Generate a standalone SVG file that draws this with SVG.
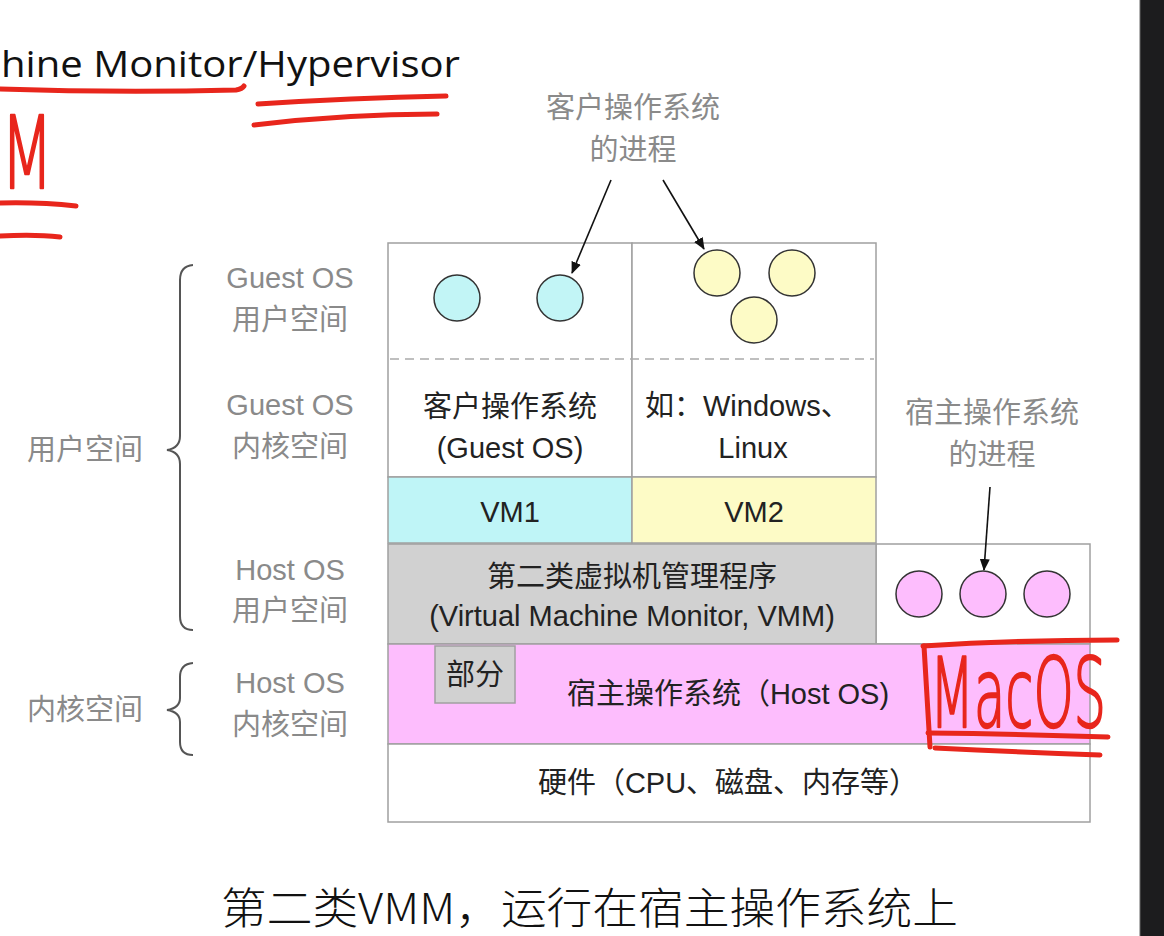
<svg xmlns="http://www.w3.org/2000/svg" width="1164" height="936" viewBox="0 0 1164 936">
<defs>
<marker id="ah" viewBox="0 0 12 10" refX="11" refY="5" markerWidth="12" markerHeight="10" markerUnits="userSpaceOnUse" orient="auto">
<path d="M0,0 L12,5 L0,10 Z" fill="#111"/>
</marker>
</defs>
<style>
.lbl{font-family:"Liberation Sans","Noto Sans CJK SC",sans-serif;font-size:29px;fill:#8a8a8a;text-anchor:middle;}
.box{font-family:"Liberation Sans","Noto Sans CJK SC",sans-serif;font-size:29px;fill:#222;text-anchor:middle;}
.frame{stroke:#a0a0a0;stroke-width:1.5;}
.proc{stroke:#333;stroke-width:1.5;}
.red{fill:none;stroke:#e8261c;stroke-width:5;stroke-linecap:round;stroke-linejoin:round;}
.redtxt{font-family:"DejaVu Sans",sans-serif;font-weight:200;fill:#e8261c;stroke:#e8261c;stroke-width:2.5;stroke-linejoin:round;}
.brace{fill:none;stroke:#555;stroke-width:2;}
.arrow{stroke:#111;stroke-width:1.6;fill:none;}
</style>
<rect width="1164" height="936" fill="#ffffff"/>
<rect x="1140" y="0" width="24" height="936" fill="#1c1c1e"/>
<line x1="1140" y1="0" x2="1140" y2="936" stroke="#666" stroke-width="1"/>

<g id="title">
<text x="1" y="77" font-family="Open Sans, Liberation Sans, sans-serif" font-size="37" fill="#111" textLength="459" lengthAdjust="spacingAndGlyphs">hine Monitor/Hypervisor</text>
</g>

<g id="guest-area">
<rect x="388" y="243" width="244" height="234" fill="#fff" class="frame"/>
<rect x="632" y="243" width="244" height="234" fill="#fff" class="frame"/>
<line x1="390" y1="359" x2="874" y2="359" stroke="#aaa" stroke-width="1.5" stroke-dasharray="9 6"/>
<text class="box" x="510" y="417">客户操作系统</text>
<text class="box" x="510" y="458">(Guest OS)</text>
<text class="box" x="645" y="416" style="text-anchor:start">如：Windows、</text>
<text class="box" x="753" y="458">Linux</text>
</g>

<g id="vm1">
<rect x="388" y="477" width="244" height="66" fill="#bff5f7" class="frame"/>
<text class="box" x="510" y="522">VM1</text>
</g>
<g id="vm2">
<rect x="632" y="477" width="244" height="66" fill="#fdfbc6" class="frame"/>
<text class="box" x="754" y="522">VM2</text>
</g>

<g id="host-user">
<rect x="876" y="544" width="214" height="100" fill="#fff" class="frame"/>
</g>
<g id="vmm">
<rect x="388" y="544" width="488" height="100" fill="#d1d1d1" class="frame"/>
<text class="box" x="632" y="587">第二类虚拟机管理程序</text>
<text class="box" x="632" y="626">(Virtual Machine Monitor, VMM)</text>
</g>
<g id="host-os">
<rect x="388" y="644" width="702" height="100" fill="#fdbdfd" class="frame"/>
<text class="box" x="728" y="704">宿主操作系统（Host OS)</text>
</g>
<g id="part">
<rect x="435" y="646" width="80" height="57" fill="#d1d1d1" class="frame"/>
<text class="box" x="475" y="685">部分</text>
</g>
<g id="hardware">
<rect x="388" y="744" width="702" height="78" fill="#fff" class="frame"/>
<text class="box" x="728" y="793">硬件（CPU、磁盘、内存等）</text>
</g>

<g id="guest-procs">
<circle cx="457" cy="298" r="23" fill="#c2f5f6" class="proc"/>
<circle cx="560" cy="298" r="23" fill="#c2f5f6" class="proc"/>
<circle cx="717" cy="273" r="23" fill="#fdfbc6" class="proc"/>
<circle cx="792" cy="273" r="23" fill="#fdfbc6" class="proc"/>
<circle cx="754" cy="320" r="23" fill="#fdfbc6" class="proc"/>
</g>
<g id="host-procs">
<circle cx="919" cy="594" r="23" fill="#fdbdfd" class="proc"/>
<circle cx="983" cy="594" r="23" fill="#fdbdfd" class="proc"/>
<circle cx="1047" cy="594" r="23" fill="#fdbdfd" class="proc"/>
</g>

<g id="guest-proc-label">
<text class="lbl" x="633" y="118">客户操作系统</text>
<text class="lbl" x="633" y="160">的进程</text>
</g>
<g id="host-proc-label">
<text class="lbl" x="992" y="423">宿主操作系统</text>
<text class="lbl" x="992" y="465">的进程</text>
</g>

<g id="connectors">
<line class="arrow" x1="611" y1="180" x2="572" y2="273" marker-end="url(#ah)"/>
<line class="arrow" x1="663" y1="180" x2="704" y2="249" marker-end="url(#ah)"/>
<line class="arrow" x1="990" y1="487" x2="984" y2="570" marker-end="url(#ah)"/>
</g>

<g id="side-labels">
<text class="lbl" x="290" y="288">Guest OS</text>
<text class="lbl" x="290" y="330">用户空间</text>
<text class="lbl" x="290" y="415">Guest OS</text>
<text class="lbl" x="290" y="457">内核空间</text>
<text class="lbl" x="290" y="580">Host OS</text>
<text class="lbl" x="290" y="621">用户空间</text>
<text class="lbl" x="290" y="693">Host OS</text>
<text class="lbl" x="290" y="735">内核空间</text>
<text class="lbl" x="85" y="460">用户空间</text>
<text class="lbl" x="85" y="720">内核空间</text>
</g>

<g id="braces">
<path class="brace" d="M193,265 Q180,266 180,280 L180,436 Q180,448 167,450 Q180,452 180,464 L180,616 Q180,630 193,630"/>
<path class="brace" d="M193,663 Q180,664 180,677 L180,698 Q180,708 167,710 Q180,712 180,722 L180,742 Q180,755 193,755"/>
</g>

<g id="caption">
<text x="221" y="924" font-family="Noto Sans CJK SC, sans-serif" font-weight="300" font-size="43" fill="#111" textLength="737" lengthAdjust="spacingAndGlyphs">第二类VMM，运行在宿主操作系统上</text>
</g>

<g id="annotations">
<path class="red" d="M0,89 Q120,93 236,90 Q242,89 244,86"/>
<path class="red" d="M258,104 Q350,98 446,96"/>
<path class="red" d="M254,125 Q345,114 437,114"/>
<path class="red" d="M0,203 Q40,202 76,206"/>
<path class="red" d="M0,236 Q35,234 60,237"/>
<text class="redtxt" x="1" y="188" font-size="100" textLength="52" lengthAdjust="spacingAndGlyphs">M</text>
<path class="red" d="M923,646 Q1020,640 1117,640"/>
<path class="red" d="M924,646 L930,747"/>
<path class="red" d="M928,733 Q1020,734 1108,737"/>
<path class="red" d="M935,748 Q1020,752 1100,755"/>
<text class="redtxt" x="930" y="727" font-size="96" textLength="176" lengthAdjust="spacingAndGlyphs">MacOS</text>
</g>
</svg>
